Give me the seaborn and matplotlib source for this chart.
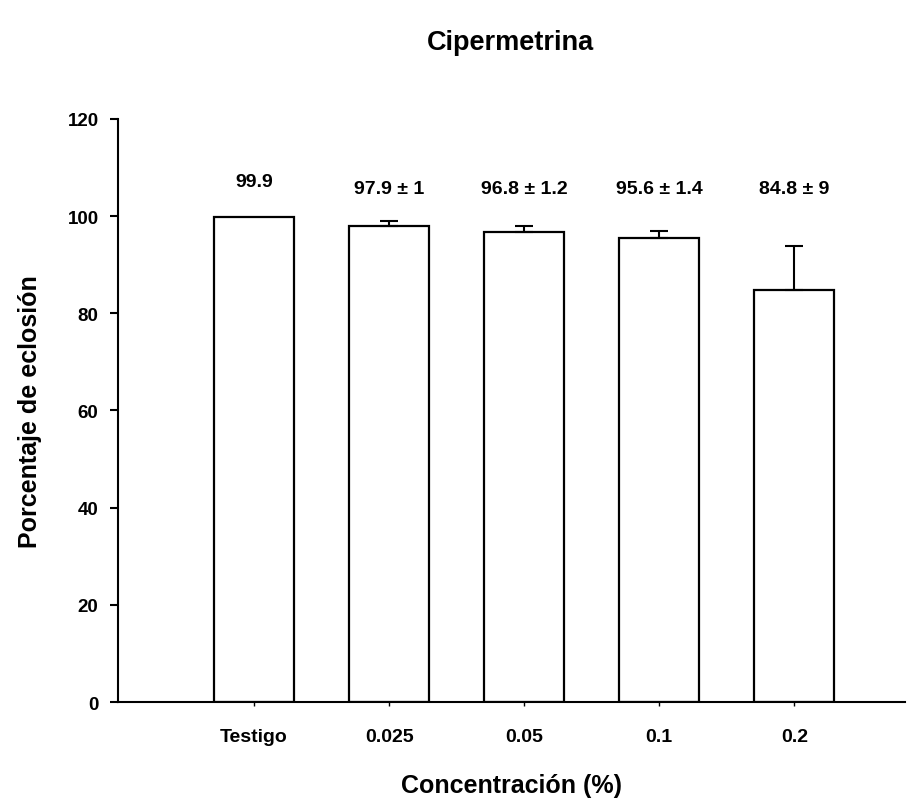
import numpy as np
import pandas as pd
import matplotlib
matplotlib.use("Agg")
import matplotlib.pyplot as plt
import seaborn as sns

# Data
concentrations = ["Testigo", "0.025", "0.05", "0.1", "0.2"]
eclosion = [99.9, 97.9, 96.8, 95.6, 84.8]
error = [0.0, 1.0, 1.2, 1.4, 9.0]
labels = ["99.9", "97.9 ± 1", "96.8 ± 1.2", "95.6 ± 1.4", "84.8 ± 9"]

df = pd.DataFrame({"conc": concentrations, "pct": eclosion, "err": error})

sns.set_style("ticks")
plt.rcParams["font.family"] = ["Liberation Sans", "DejaVu Sans"]
plt.rcParams["font.weight"] = "bold"
plt.rcParams["text.color"] = "black"
plt.rcParams["axes.labelcolor"] = "black"
plt.rcParams["xtick.color"] = "black"
plt.rcParams["ytick.color"] = "black"
plt.rcParams["axes.edgecolor"] = "black"

fig = plt.figure(figsize=(9.17, 8.03), dpi=100)
ax = fig.add_axes([0.1287, 0.1245, 0.8583, 0.7261])

sns.barplot(data=df, x="conc", y="pct", order=concentrations, color="white",
            edgecolor="black", linewidth=1.6, width=0.593, errorbar=None, ax=ax)

# upper-only error bars
xpos = np.arange(len(concentrations))
has_err = df["err"] > 0
ax.errorbar(xpos[has_err], df["pct"][has_err],
            yerr=[np.zeros(has_err.sum()), df["err"][has_err]],
            fmt="none", ecolor="black", elinewidth=1.5, capsize=6.5, capthick=1.5)

# value labels (the control one sits a bit higher)
for x, e, lab in zip(xpos, error, labels):
    ypos = 107.2 if e == 0 else 105.6
    ax.text(x, ypos, lab, ha="center", va="center", fontsize=14, fontweight="bold")

ax.set_xlim(-1.007, 4.82)
ax.set_ylim(0, 120)
ax.set_yticks(range(0, 121, 20))
sns.despine(ax=ax)
for s in ["left", "bottom"]:
    ax.spines[s].set_linewidth(1.5)
ax.tick_params(axis="y", length=6, width=1.5, labelsize=13.5, pad=8)
ax.tick_params(axis="x", length=3, width=1, labelsize=14, pad=16)
for t in ax.get_xticklabels() + ax.get_yticklabels():
    t.set_fontweight("bold")

ax.set_xlabel("Concentración (%)", fontsize=18, fontweight="bold", labelpad=20)
ax.set_ylabel("Porcentaje de eclosión", fontsize=18, fontweight="bold", labelpad=18)
fig.suptitle("Cipermetrina", x=0.557, y=0.963, fontsize=19.5, fontweight="bold")

fig.savefig("out.png", dpi=100)
